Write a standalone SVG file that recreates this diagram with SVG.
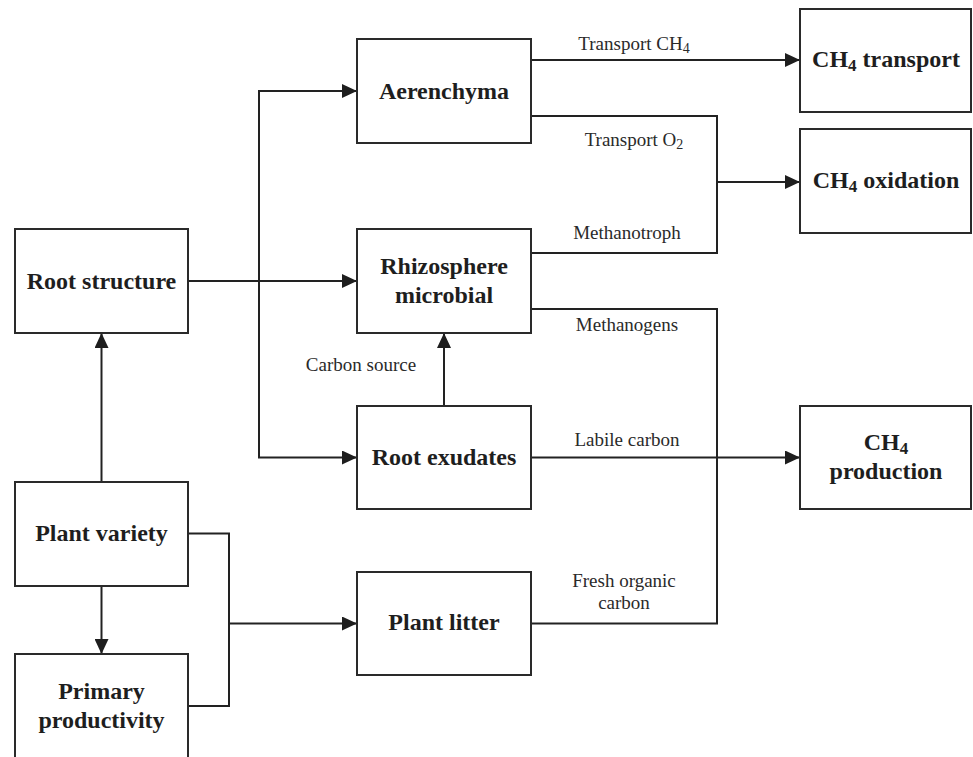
<svg xmlns="http://www.w3.org/2000/svg" width="973" height="757" viewBox="0 0 973 757">
<defs>
<marker id="arr" markerUnits="userSpaceOnUse" markerWidth="15" markerHeight="14" refX="15" refY="7" orient="auto-start-reverse">
<path d="M0,0 L15,7 L0,14 z" fill="#1e1e1e"/>
</marker>
<style>
.box{fill:#fff;stroke:#2a2a2a;stroke-width:2}
.t{font-family:"Liberation Serif","Times New Roman",serif;font-weight:bold;font-size:24px;fill:#1e1e1e;text-anchor:middle}
.l{font-family:"Liberation Serif","Times New Roman",serif;font-size:19px;fill:#2a2a2a;text-anchor:middle}
.c{fill:none;stroke:#222;stroke-width:2}
.a{fill:none;stroke:#222;stroke-width:2;marker-end:url(#arr)}
</style>
</defs>
<rect width="973" height="757" fill="#fff"/>
<g id="connectors">
<path class="a" d="M188,281 H357"/>
<path class="c" d="M357,91 H259 V457.5 H357" marker-start="url(#arr)" marker-end="url(#arr)"/>
<path class="a" d="M444,406 V333"/>
<path class="a" d="M101.5,482 V333"/>
<path class="a" d="M101.5,586 V654"/>
<path class="c" d="M188,533.5 H229 V706 H188"/>
<path class="a" d="M229,623.5 H357"/>
<path class="a" d="M531,60 H800"/>
<path class="c" d="M531,116 H717 V253 H531"/>
<path class="a" d="M717,182 H800"/>
<path class="c" d="M531,309 H717 V623.5 H531"/>
<path class="a" d="M531,457.5 H800"/>
<text class="l" x="634" y="50">Transport CH<tspan font-size="14" dy="3">4</tspan></text>
<text class="l" x="634" y="146">Transport O<tspan font-size="14" dy="3">2</tspan></text>
<text class="l" x="627" y="239">Methanotroph</text>
<text class="l" x="627" y="331">Methanogens</text>
<text class="l" x="627" y="446">Labile carbon</text>
<text class="l" x="624" y="587">Fresh organic</text>
<text class="l" x="624" y="609">carbon</text>
<text class="l" x="361" y="371">Carbon source</text>
</g>
<g id="aerenchyma"><rect class="box" x="357" y="39" width="174" height="104"/><text class="t" x="444" y="99">Aerenchyma</text></g>
<g id="root-structure"><rect class="box" x="15" y="229" width="173" height="104"/><text class="t" x="101.5" y="289">Root structure</text></g>
<g id="rhizosphere"><rect class="box" x="357" y="229" width="174" height="104"/><text class="t" x="444" y="274">Rhizosphere</text><text class="t" x="444" y="303">microbial</text></g>
<g id="root-exudates"><rect class="box" x="357" y="406" width="174" height="103"/><text class="t" x="444" y="465">Root exudates</text></g>
<g id="plant-variety"><rect class="box" x="15" y="482" width="173" height="104"/><text class="t" x="101.5" y="541">Plant variety</text></g>
<g id="primary-productivity"><rect class="box" x="15" y="654" width="173" height="105"/><text class="t" x="101.5" y="699">Primary</text><text class="t" x="101.5" y="728">productivity</text></g>
<g id="plant-litter"><rect class="box" x="357" y="572" width="174" height="103"/><text class="t" x="444" y="630">Plant litter</text></g>
<g id="ch4-transport"><rect class="box" x="800" y="9" width="171" height="103"/><text class="t" x="886" y="67">CH<tspan font-size="17" dy="4">4</tspan><tspan dy="-4"> transport</tspan></text></g>
<g id="ch4-oxidation"><rect class="box" x="800" y="129" width="171" height="104"/><text class="t" x="886" y="188">CH<tspan font-size="17" dy="4">4</tspan><tspan dy="-4"> oxidation</tspan></text></g>
<g id="ch4-production"><rect class="box" x="800" y="406" width="171" height="103"/><text class="t" x="886" y="450">CH<tspan font-size="17" dy="4">4</tspan></text><text class="t" x="886" y="479">production</text></g>
</svg>
